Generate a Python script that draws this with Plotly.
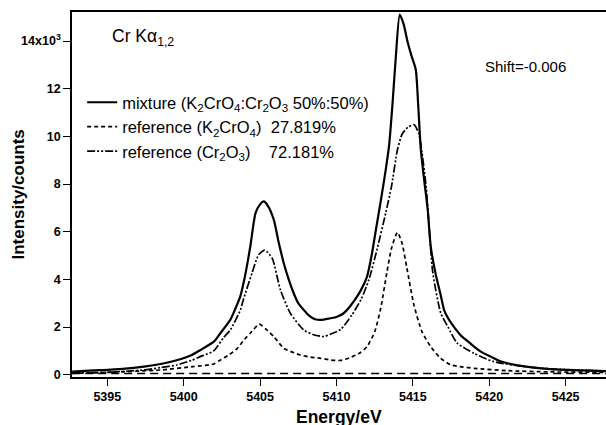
import plotly.graph_objects as go

# ---------------- data ----------------
mix_E = [5392.7, 5394.1, 5396.0, 5397.4, 5398.5, 5399.6, 5400.5, 5401.1, 5402.0, 5402.4,
         5403.05, 5403.3, 5403.7, 5404.0, 5404.36, 5404.7, 5405.0, 5405.24, 5405.5, 5405.9,
         5406.2, 5406.55, 5406.9, 5407.2, 5407.5, 5407.86, 5408.2, 5408.6, 5409.0, 5409.6,
         5410.0, 5410.47, 5410.8, 5411.2, 5411.6, 5412.0, 5412.3, 5412.56, 5412.9,
         5413.2, 5413.44, 5413.66, 5413.88, 5414.14, 5414.4, 5414.62, 5414.9, 5415.19, 5415.35,
         5415.52, 5415.74, 5415.96, 5416.17, 5416.5, 5416.82, 5417.05, 5417.37, 5417.7, 5418.14,
         5418.6, 5419.0, 5419.5, 5420.1, 5420.6, 5421.2, 5422.3, 5423.4, 5425.0, 5427.7]
mix_I = [130, 180, 250, 340, 450, 620, 820, 1040, 1400, 1740,
         2300, 2650, 3280, 4100, 5380, 6780, 7150, 7270, 7100, 6500,
         5600, 4680, 3950, 3420, 3000, 2720, 2480, 2330, 2300, 2370,
         2420, 2580, 2800, 3140, 3550, 4120, 5000, 6000, 7300,
         8500, 9600, 11300, 13300, 15110, 14700, 14060, 13400, 12800, 11300,
         9440, 8170, 7000, 5380, 4200, 3350, 2700, 2300, 2000, 1650,
         1400, 1180, 950, 760, 600, 480, 350, 270, 200, 150]

k2_E = [5392.7, 5395.0, 5398.5, 5400.6, 5401.96, 5402.4, 5403.0, 5403.5, 5404.0, 5404.36,
        5404.95, 5405.4, 5405.9, 5406.55, 5407.1, 5407.64, 5408.3, 5408.96, 5409.6, 5410.27,
        5410.9, 5411.5, 5412.0, 5412.5, 5412.9, 5413.3, 5413.6, 5413.99, 5414.3, 5414.6,
        5415.08, 5415.6, 5416.17, 5416.8, 5417.5, 5418.2, 5419.0, 5421.2, 5424.0, 5427.7]
k2_I = [60, 100, 200, 340, 450, 620, 850, 1100, 1500, 1740,
        2120, 1900, 1600, 1110, 950, 830, 740, 690, 620, 600,
        720, 900, 1180, 1800, 2800, 4300, 5300, 5970, 5500, 4500,
        2900, 1800, 1180, 700, 410, 330, 270, 170, 120, 100]

cr_E = [5392.7, 5395.0, 5397.36, 5398.5, 5399.55, 5400.5, 5401.08, 5401.96, 5402.6, 5403.05,
        5403.7, 5403.9, 5404.47, 5404.9, 5405.3, 5405.79, 5406.33, 5406.98, 5407.86, 5408.5,
        5409.17, 5409.6, 5410.27, 5411.0, 5411.6, 5412.13, 5412.67, 5413.22, 5413.6, 5413.99,
        5414.3, 5414.7, 5415.08, 5415.4, 5415.6, 5415.85, 5416.0, 5416.3, 5416.83, 5417.3,
        5417.9, 5419.0, 5420.3, 5422.3, 5424.0, 5427.7]
cr_I = [80, 100, 200, 300, 410, 600, 760, 1000, 1550, 1880,
        2700, 3140, 4260, 5030, 5230, 4890, 3560, 2580, 1880, 1680,
        1600, 1700, 1900, 2500, 3150, 4000, 5300, 6780, 7900, 9440,
        10100, 10400, 10490, 10100, 9300, 8000, 6800, 4300, 2580, 2000,
        1330, 900, 550, 340, 250, 150]

base_E = [5392.7, 5427.7]
base_I = [50, 50]

y_tickvals = [0, 2000, 4000, 6000, 8000, 10000, 12000, 14000]
y_ticktext = ["0", "2", "4", "6", "8", "10", "12", "14x10<sup>3</sup>"]
x_tickvals = [5395, 5400, 5405, 5410, 5415, 5420, 5425]

names = ["mixture (K<sub>2</sub>CrO<sub>4</sub>:Cr<sub>2</sub>O<sub>3</sub> 50%:50%)",
         "reference (K<sub>2</sub>CrO<sub>4</sub>)  27.819%",
         "reference (Cr<sub>2</sub>O<sub>3</sub>)    72.181%"]

FONT = "Liberation Sans, Arial, sans-serif"

fig = go.Figure()
fig.add_trace(go.Scatter(x=base_E, y=base_I, mode="lines", showlegend=False,
                         line=dict(color="black", width=1.6, dash="8px,5px")))
fig.add_trace(go.Scatter(x=mix_E, y=mix_I, mode="lines", name=names[0],
                         line=dict(color="black", width=2.2, shape="spline", smoothing=0.6)))
fig.add_trace(go.Scatter(x=k2_E, y=k2_I, mode="lines", name=names[1],
                         line=dict(color="black", width=1.7, dash="4px,3px", shape="spline", smoothing=0.6)))
fig.add_trace(go.Scatter(x=cr_E, y=cr_I, mode="lines", name=names[2],
                         line=dict(color="black", width=1.7, dash="8px,2px,2px,2px,2px,2px",
                                   shape="spline", smoothing=0.6)))

fig.update_layout(
    width=606, height=425,
    margin=dict(l=72, r=0, t=12, b=48),
    paper_bgcolor="white", plot_bgcolor="white",
    font=dict(family=FONT, color="black"),
    legend=dict(x=0.019, y=0.80, xanchor="left", yanchor="top",
                bgcolor="rgba(0,0,0,0)", font=dict(size=16.5, family=FONT),
                itemwidth=30, tracegroupgap=0),
    showlegend=True,
)
fig.update_xaxes(range=[5392.69, 5427.64], tickvals=x_tickvals,
                 showline=True, linecolor="black", linewidth=1.5, mirror=True,
                 ticks="outside", ticklen=7, tickwidth=1.2, tickcolor="black",
                 showgrid=False, zeroline=False,
                 tickfont=dict(size=12.5, family=FONT, weight="bold"))
fig.update_yaxes(range=[-95, 15220], tickvals=y_tickvals, ticktext=y_ticktext,
                 showline=True, linecolor="black", linewidth=1.5,
                 ticks="outside", ticklen=7, tickwidth=1.2, tickcolor="black",
                 showgrid=False, zeroline=False,
                 tickfont=dict(size=12.5, family=FONT, weight="bold"))

fig.add_annotation(text="Energy/eV", xref="paper", yref="paper", x=0.5, y=-0.11,
                   showarrow=False, font=dict(size=17.5, family=FONT, weight="bold"),
                   xanchor="center", yanchor="middle")
fig.add_annotation(text="Intensity/counts", xref="paper", yref="paper", x=-0.101, y=0.5,
                   textangle=-90, showarrow=False,
                   font=dict(size=17, family=FONT, weight="bold"),
                   xanchor="center", yanchor="middle")
fig.add_annotation(text="Cr Kα<sub>1,2</sub>", xref="paper", yref="paper",
                   x=(110 - 72) / 534, y=1 - (37 - 12) / 365, xanchor="left", yanchor="middle",
                   showarrow=False, font=dict(size=17.5, family=FONT))
fig.add_annotation(text="Shift=-0.006", xref="paper", yref="paper",
                   x=(483 - 72) / 534, y=1 - (66 - 12) / 365, xanchor="left", yanchor="middle",
                   showarrow=False, font=dict(size=15, family=FONT))

fig.write_html("out.html", config={"displayModeBar": False},
               post_script="document.body.style.margin='0';document.body.style.overflow='hidden';")
